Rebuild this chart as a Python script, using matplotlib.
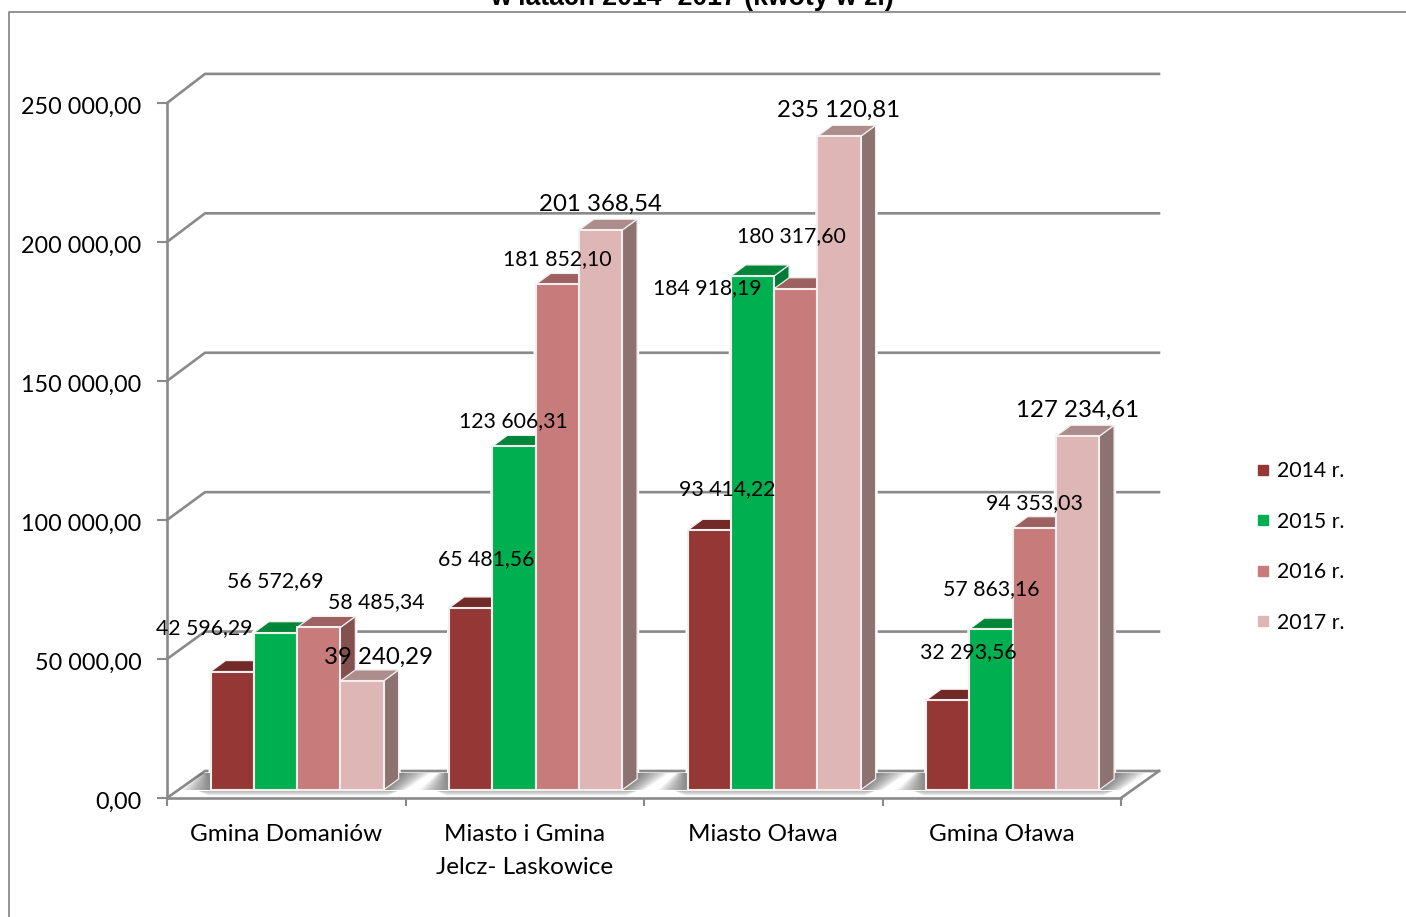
import matplotlib
matplotlib.use('Agg')
import matplotlib.pyplot as plt
from matplotlib.lines import Line2D
from matplotlib.patches import Polygon
from matplotlib.ticker import FuncFormatter
from matplotlib.transforms import ScaledTranslation

W, H = 1406, 917
plt.rcParams['font.family'] = ['Lato', 'DejaVu Sans']

categories = ['Gmina Domaniów', 'Miasto i Gmina\nJelcz- Laskowice', 'Miasto Oława', 'Gmina Oława']
years = ['2014 r.', '2015 r.', '2016 r.', '2017 r.']
v2014 = [42596.29, 65481.56, 93414.22, 32293.56]
v2015 = [56572.69, 123606.31, 184918.19, 57863.16]
v2016 = [58485.34, 181852.10, 180317.60, 94353.03]
v2017 = [39240.29, 201368.54, 235120.81, 127234.61]
series = [v2014, v2015, v2016, v2017]

front = ['#953735', '#00B050', '#C77C7B', '#DEB6B5']
top = ['#722A28', '#008639', '#9C6160', '#AC8D8C']
side = ['#6A2826', '#007A37', '#825150', '#8C7372']

# label centres in picture pixels, same order as series
label_px = [
    [(204, 628), (486, 559), (727, 489), (968, 652)],
    [(275, 581), (513, 421), (707, 288), (991, 589)],
    [(376, 602), (557, 259), (791, 236), (1034, 503)],
    [(378, 657), (600, 204), (839, 110), (1078, 410)],
]

# the axes is the front plane of the 3d box
X0, X1, Y0, Y250 = 167, 1121, 798, 103
fig = plt.figure(figsize=(W / 100, H / 100), dpi=100)
ax = fig.add_axes([X0 / W, 1 - Y0 / H, (X1 - X0) / W, (Y0 - Y250) / H])
ax.set_xlim(0, 4)
ax.set_ylim(0, 250000)
ax.patch.set_alpha(0)

cat_px = (X1 - X0) / 4
val_px = (Y0 - Y250) / 250000


def dx(px):
    return px / cat_px


def dy(px):
    return px / val_px


def fmt(v, pos=None):
    return f'{v:,.2f}'.replace(',', ' ').replace('.', ',')


def shade(points, alpha, g_left, g_right):
    # points are pixel offsets from the group's floor corners, 'L' or 'R'
    pts = []
    for side_name, ox, oy in points:
        base_x = g_left if side_name == 'L' else g_right
        pts.append((base_x + dx(ox), BASE + dy(oy)))
    ax.add_patch(Polygon(pts, fc='#444444', ec='none', alpha=alpha, clip_on=False, zorder=2))


grey = '#8A8A8A'
BACK_X, BACK_Y = 38, 27
for spine in ['top', 'right']:
    ax.spines[spine].set_visible(False)
for spine in ['left', 'bottom']:
    ax.spines[spine].set_color(grey)
    ax.spines[spine].set_linewidth(1.9)

ax.set_yticks([0, 50000, 100000, 150000, 200000, 250000])
ax.yaxis.set_major_formatter(FuncFormatter(fmt))
ax.tick_params(axis='y', length=7, width=1.5, color=grey, labelsize=16.8, pad=11.5)
shift = ScaledTranslation(0, -2 / 100, fig.dpi_scale_trans)
for lab in ax.get_yticklabels():
    lab.set_transform(lab.get_transform() + shift)
ax.set_xticks([0, 1, 2, 3, 4])
ax.set_xticklabels([])
ax.tick_params(axis='x', length=6, width=1.5, color=grey)
ax.set_xticks([0.5, 1.5, 2.5, 3.5], minor=True)
ax.set_xticklabels(categories, minor=True, fontsize=17.5, linespacing=1.72)
ax.tick_params(axis='x', which='minor', length=0, pad=18.5)

# back wall grid, slightly stretched like the original perspective
for t in ax.get_yticks():
    back = dy(BACK_Y) + t * 1.003
    ax.plot([0, dx(BACK_X), 4 + dx(BACK_X)], [t, back, back],
            color=grey, lw=1.9, clip_on=False, zorder=1, solid_joinstyle='miter')
ax.plot([4, 4 + dx(BACK_X)], [0, dy(BACK_Y)], color=grey, lw=1.9, clip_on=False, zorder=1)

BAR = 43.25 / cat_px
OFF = dx(43.6)
DEPTH = (15, 11)
BASE = dy(8)
ddx, ddy = dx(DEPTH[0]), dy(DEPTH[1])

for g in range(4):
    gx = g + OFF
    gr = gx + 4 * BAR
    # soft floor shadows, stacked thin layers
    layers = 24
    for k in range(1, layers + 1):
        f = k / layers
        shade([('L', 0, 0), ('L', -30 * f, 0), ('L', -3 - 8 * f, 17), ('L', 0, 17)], 0.035, gx, gr)
        shade([('R', 0, 0), ('R', 15, 11), ('R', 15, 17), ('R', 15 + 32 * f, 17), ('R', 22 * f, 0)], 0.04, gx, gr)
        shade([('L', -12, -1), ('R', 14, -1), ('R', 4, -1 - 5 * f), ('L', -2, -1 - 5 * f)], 0.016, gx, gr)
    for s in range(4):
        v = series[s][g]
        x = gx + s * BAR
        # white halo keeps grid lines off the bar
        ax.add_patch(Polygon([(x, BASE), (x, BASE + v), (x + ddx, BASE + v + ddy), (x + BAR + ddx, BASE + v + ddy),
                              (x + BAR + ddx, BASE + ddy), (x + BAR, BASE)],
                             fc='white', ec='white', lw=3, clip_on=False, zorder=1.5))
        ax.add_patch(Polygon([(x + BAR, BASE), (x + BAR + ddx, BASE + ddy), (x + BAR + ddx, BASE + v + ddy), (x + BAR, BASE + v)],
                             fc=side[s], ec='#F2EEEE', lw=0.9, clip_on=False, zorder=3 + s))
        ax.add_patch(Polygon([(x, BASE + v), (x + ddx, BASE + v + ddy), (x + BAR + ddx, BASE + v + ddy), (x + BAR, BASE + v)],
                             fc=top[s], ec='#F2EEEE', lw=0.9, clip_on=False, zorder=3 + s))
        ax.bar(x, v, BAR, bottom=BASE, align='edge', color=front[s], edgecolor='#F5EEEE', linewidth=1.5,
               clip_on=False, zorder=3 + s)

# value labels sit where the author dragged them
for s in range(4):
    for g in range(4):
        px, py = label_px[s][g]
        ax.text(dx(px - X0), dy(Y0 - py), fmt(series[s][g]), ha='center', va='center',
                fontsize=17.3 if s == 3 else 15.3, color='black', clip_on=False, zorder=20)

handles = [Line2D([], [], ls='none', marker='s', ms=7.8, color=c) for c in front]
fig.legend(handles, years, loc='center left', bbox_to_anchor=(1255.5 / W, 1 - 547 / H), frameon=False,
           fontsize=15.3, labelspacing=1.44, handlelength=0.75, handletextpad=0.26, borderpad=0, borderaxespad=0)

# outer frame, cut by the page edge, and the cut title
fig.add_artist(Line2D([9 / W, 9 / W, 1], [0, 1 - 11.5 / H, 1 - 11.5 / H], color=grey, lw=1.3))
fig.text(692 / W, 1 - 5 / H, 'w latach 2014- 2017 (kwoty w zł)', ha='center', va='baseline',
         family='Liberation Sans', weight='bold', fontsize=19.2)

fig.savefig('out.png', dpi=100)
